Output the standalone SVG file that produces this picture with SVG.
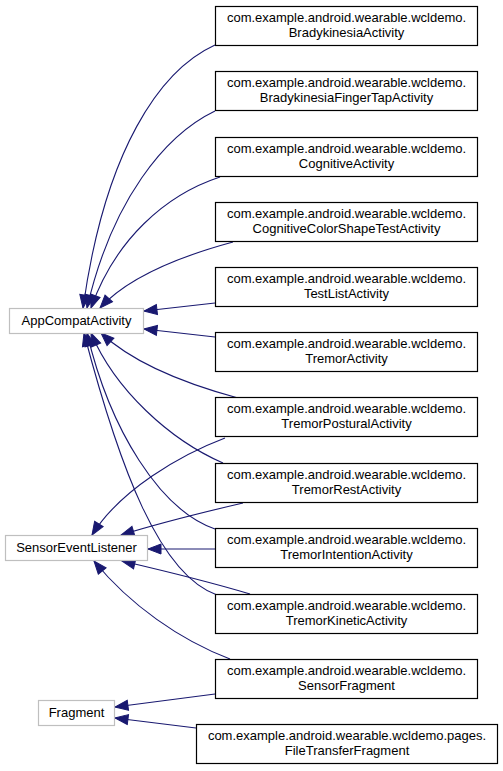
<svg xmlns="http://www.w3.org/2000/svg" width="503" height="771" viewBox="0 0 503 771">
<style>
text{font-family:"Liberation Sans",Arial,Helvetica,sans-serif;font-size:13px;fill:#000;text-anchor:middle}
.leaf{fill:#fff;stroke:#000;stroke-width:1.2}
.base{fill:#fff;stroke:#bfbfbf;stroke-width:1.2}
.e{fill:none;stroke:#191970;stroke-width:1.1;marker-end:url(#ah)}
</style>
<defs>
<marker id="ah" markerUnits="userSpaceOnUse" markerWidth="14" markerHeight="11" refX="13" refY="5.5" orient="auto" overflow="visible">
<path d="M0,0.5 L13,5.5 L0,10.5 z" fill="#191970" stroke="#191970" stroke-width="1"/>
</marker>
</defs>
<rect width="503" height="771" fill="#fff"/>
<g id="edges">
<path class="e" d="M215,45 C160,70 105,150 83,308"/>
<path class="e" d="M215,111 C165,135 112,200 87,308"/>
<path class="e" d="M220,177 C165,195 115,240 91,308"/>
<path class="e" d="M233,242 C185,255 130,275 100,308"/>
<path class="e" d="M215,303 L144,311"/>
<path class="e" d="M215,337 L144,329"/>
<path class="e" d="M238,398 C190,385 135,365 101,333"/>
<path class="e" d="M223,463 C170,440 115,390 91,333"/>
<path class="e" d="M215,529 C160,510 110,430 87,333"/>
<path class="e" d="M217,595 C160,575 120,470 84,333"/>
<path class="e" d="M225,438 C180,455 120,490 92,535"/>
<path class="e" d="M243,503 C200,513 160,523 121,535"/>
<path class="e" d="M215,549 L148,549"/>
<path class="e" d="M250,594 C210,582 165,571 122,561"/>
<path class="e" d="M230,659 C180,640 130,605 94,561"/>
<path class="e" d="M215,694 L115,707"/>
<path class="e" d="M196,728 L115,718"/>
</g>
<g id="AppCompatActivity"><rect class="base" x="9.5" y="308.5" width="134" height="25"/><text x="76.5" y="325">AppCompatActivity</text></g>
<g id="SensorEventListener"><rect class="base" x="5.5" y="535.5" width="142" height="25"/><text x="76.5" y="552">SensorEventListener</text></g>
<g id="Fragment"><rect class="base" x="38.5" y="700.5" width="76" height="25"/><text x="76.5" y="717">Fragment</text></g>
<g id="BradykinesiaActivity"><rect class="leaf" x="215.5" y="6.5" width="262" height="39"/><text x="346.5" y="22">com.example.android.wearable.wcldemo.</text><text x="346.5" y="37">BradykinesiaActivity</text></g>
<g id="BradykinesiaFingerTapActivity"><rect class="leaf" x="215.5" y="71.5" width="262" height="39"/><text x="346.5" y="87">com.example.android.wearable.wcldemo.</text><text x="346.5" y="102">BradykinesiaFingerTapActivity</text></g>
<g id="CognitiveActivity"><rect class="leaf" x="215.5" y="137.5" width="262" height="39"/><text x="346.5" y="153">com.example.android.wearable.wcldemo.</text><text x="346.5" y="168">CognitiveActivity</text></g>
<g id="CognitiveColorShapeTestActivity"><rect class="leaf" x="215.5" y="202.5" width="262" height="39"/><text x="346.5" y="218">com.example.android.wearable.wcldemo.</text><text x="346.5" y="233">CognitiveColorShapeTestActivity</text></g>
<g id="TestListActivity"><rect class="leaf" x="215.5" y="267.5" width="262" height="39"/><text x="346.5" y="283">com.example.android.wearable.wcldemo.</text><text x="346.5" y="298">TestListActivity</text></g>
<g id="TremorActivity"><rect class="leaf" x="215.5" y="332.5" width="262" height="39"/><text x="346.5" y="348">com.example.android.wearable.wcldemo.</text><text x="346.5" y="363">TremorActivity</text></g>
<g id="TremorPosturalActivity"><rect class="leaf" x="215.5" y="397.5" width="262" height="39"/><text x="346.5" y="413">com.example.android.wearable.wcldemo.</text><text x="346.5" y="428">TremorPosturalActivity</text></g>
<g id="TremorRestActivity"><rect class="leaf" x="215.5" y="463.5" width="262" height="39"/><text x="346.5" y="479">com.example.android.wearable.wcldemo.</text><text x="346.5" y="494">TremorRestActivity</text></g>
<g id="TremorIntentionActivity"><rect class="leaf" x="215.5" y="528.5" width="262" height="39"/><text x="346.5" y="544">com.example.android.wearable.wcldemo.</text><text x="346.5" y="559">TremorIntentionActivity</text></g>
<g id="TremorKineticActivity"><rect class="leaf" x="215.5" y="594.5" width="262" height="39"/><text x="346.5" y="610">com.example.android.wearable.wcldemo.</text><text x="346.5" y="625">TremorKineticActivity</text></g>
<g id="SensorFragment"><rect class="leaf" x="215.5" y="659.5" width="262" height="39"/><text x="346.5" y="675">com.example.android.wearable.wcldemo.</text><text x="346.5" y="690">SensorFragment</text></g>
<g id="FileTransferFragment"><rect class="leaf" x="196.5" y="724.5" width="301" height="39"/><text x="347" y="740">com.example.android.wearable.wcldemo.pages.</text><text x="347" y="755">FileTransferFragment</text></g>
</svg>
